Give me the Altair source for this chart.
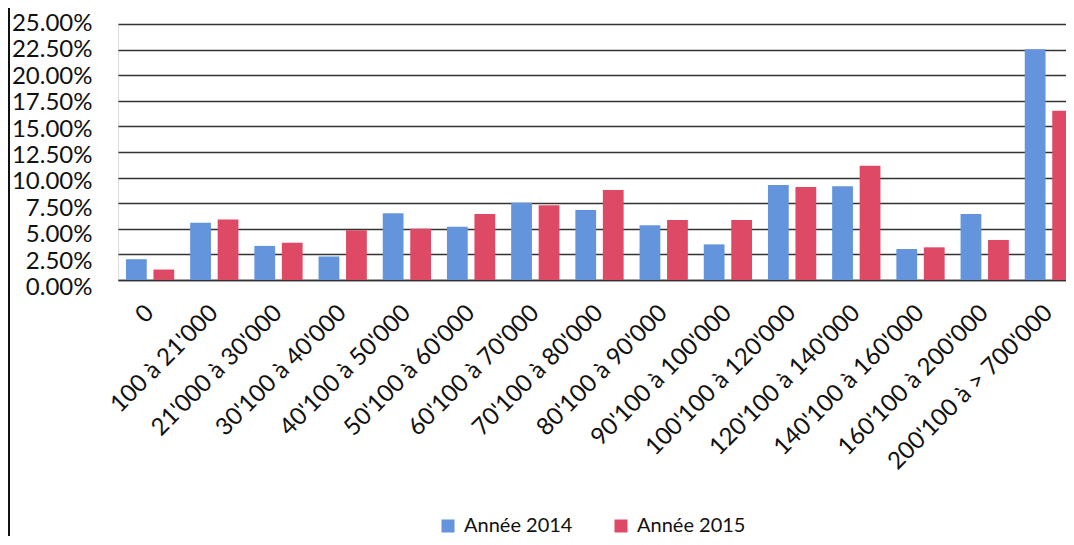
import altair as alt
import pandas as pd

categories = ["0", "100 à 21'000", "21'000 à 30'000", "30'100 à 40'000", "40'100 à 50'000",
              "50'100 à 60'000", "60'100 à 70'000", "70'100 à 80'000", "80'100 à 90'000",
              "90'100 à 100'000", "100'100 à 120'000", "120'100 à 140'000",
              "140'100 à 160'000", "160'100 à 200'000", "200'100 à > 700'000"]
series = ["Année 2014", "Année 2015"]
values_2014 = [0.0203, 0.0558, 0.0333, 0.0230, 0.0651, 0.0520, 0.0755, 0.0684, 0.0534,
               0.0348, 0.0928, 0.0915, 0.0303, 0.0645, 0.2253]
values_2015 = [0.0102, 0.0590, 0.0364, 0.0486, 0.0501, 0.0645, 0.0729, 0.0879, 0.0586,
               0.0586, 0.0908, 0.1116, 0.0319, 0.0391, 0.1653]
y_ticks = [0, 0.025, 0.05, 0.075, 0.10, 0.125, 0.15, 0.175, 0.20, 0.225, 0.25]

rows = []
for c, a, b in zip(categories, values_2014, values_2015):
    rows.append({"cat": c, "year": series[0], "v": a})
    rows.append({"cat": c, "year": series[1], "v": b})
df = pd.DataFrame(rows)

FONT = "Lato"

bars = alt.Chart(df).mark_bar().encode(
    x=alt.X("cat:N", sort=categories, title=None,
            scale=alt.Scale(range=[0, 963], paddingInner=0.248, paddingOuter=0.124),
            axis=alt.Axis(labelAngle=-45, labelAlign="right", labelBaseline="middle",
                          labelPadding=29, ticks=False, domain=True, domainColor="#333333",
                          domainWidth=1.3, labelFont=FONT, labelFontSize=24,
                          labelColor="#111111", grid=False, labelLimit=0,
                          labelOverlap=False)),
    xOffset=alt.XOffset("year:N", sort=series,
                        scale=alt.Scale(paddingInner=0.244, paddingOuter=0)),
    y=alt.Y("v:Q", title=None,
            scale=alt.Scale(domain=[0, 0.25], nice=False),
            axis=alt.Axis(values=y_ticks, format=".2%", grid=True, gridColor="#333333",
                          gridWidth=1.3, domain=False, ticks=False, labelPadding=26,
                          labelFont=FONT, labelFontSize=24, labelColor="#111111",
                          labelOffset={"expr": "-0.7 + (0.25 - datum.value) * 33.6"})),
    color=alt.Color("year:N", sort=series,
                    scale=alt.Scale(domain=series, range=["#6495DC", "#DE4A66"]),
                    legend=alt.Legend(title=None, orient="none", direction="horizontal",
                                      legendX=320, legendY=492, symbolType="square",
                                      symbolSize=169, symbolStrokeWidth=0,
                                      labelFont=FONT, labelFontSize=20, labelColor="#111111",
                                      columnPadding=38, labelOffset=6, padding=0)),
)

frame = alt.Chart(pd.DataFrame({"a": [0]})).mark_rule(color="#111111", strokeWidth=2).encode(
    x=alt.value(-109), y=alt.value(-16), y2=alt.value(512)
)

chart = alt.layer(bars, frame).properties(
    width=948, height=256,
    autosize=alt.AutoSizeParams(type="none"),
    padding={"left": 110, "top": 16, "right": 0, "bottom": 256},
).configure_view(stroke=None).configure(background="white")

chart.save("out.html", embed_options={"renderer": "svg", "actions": False})
